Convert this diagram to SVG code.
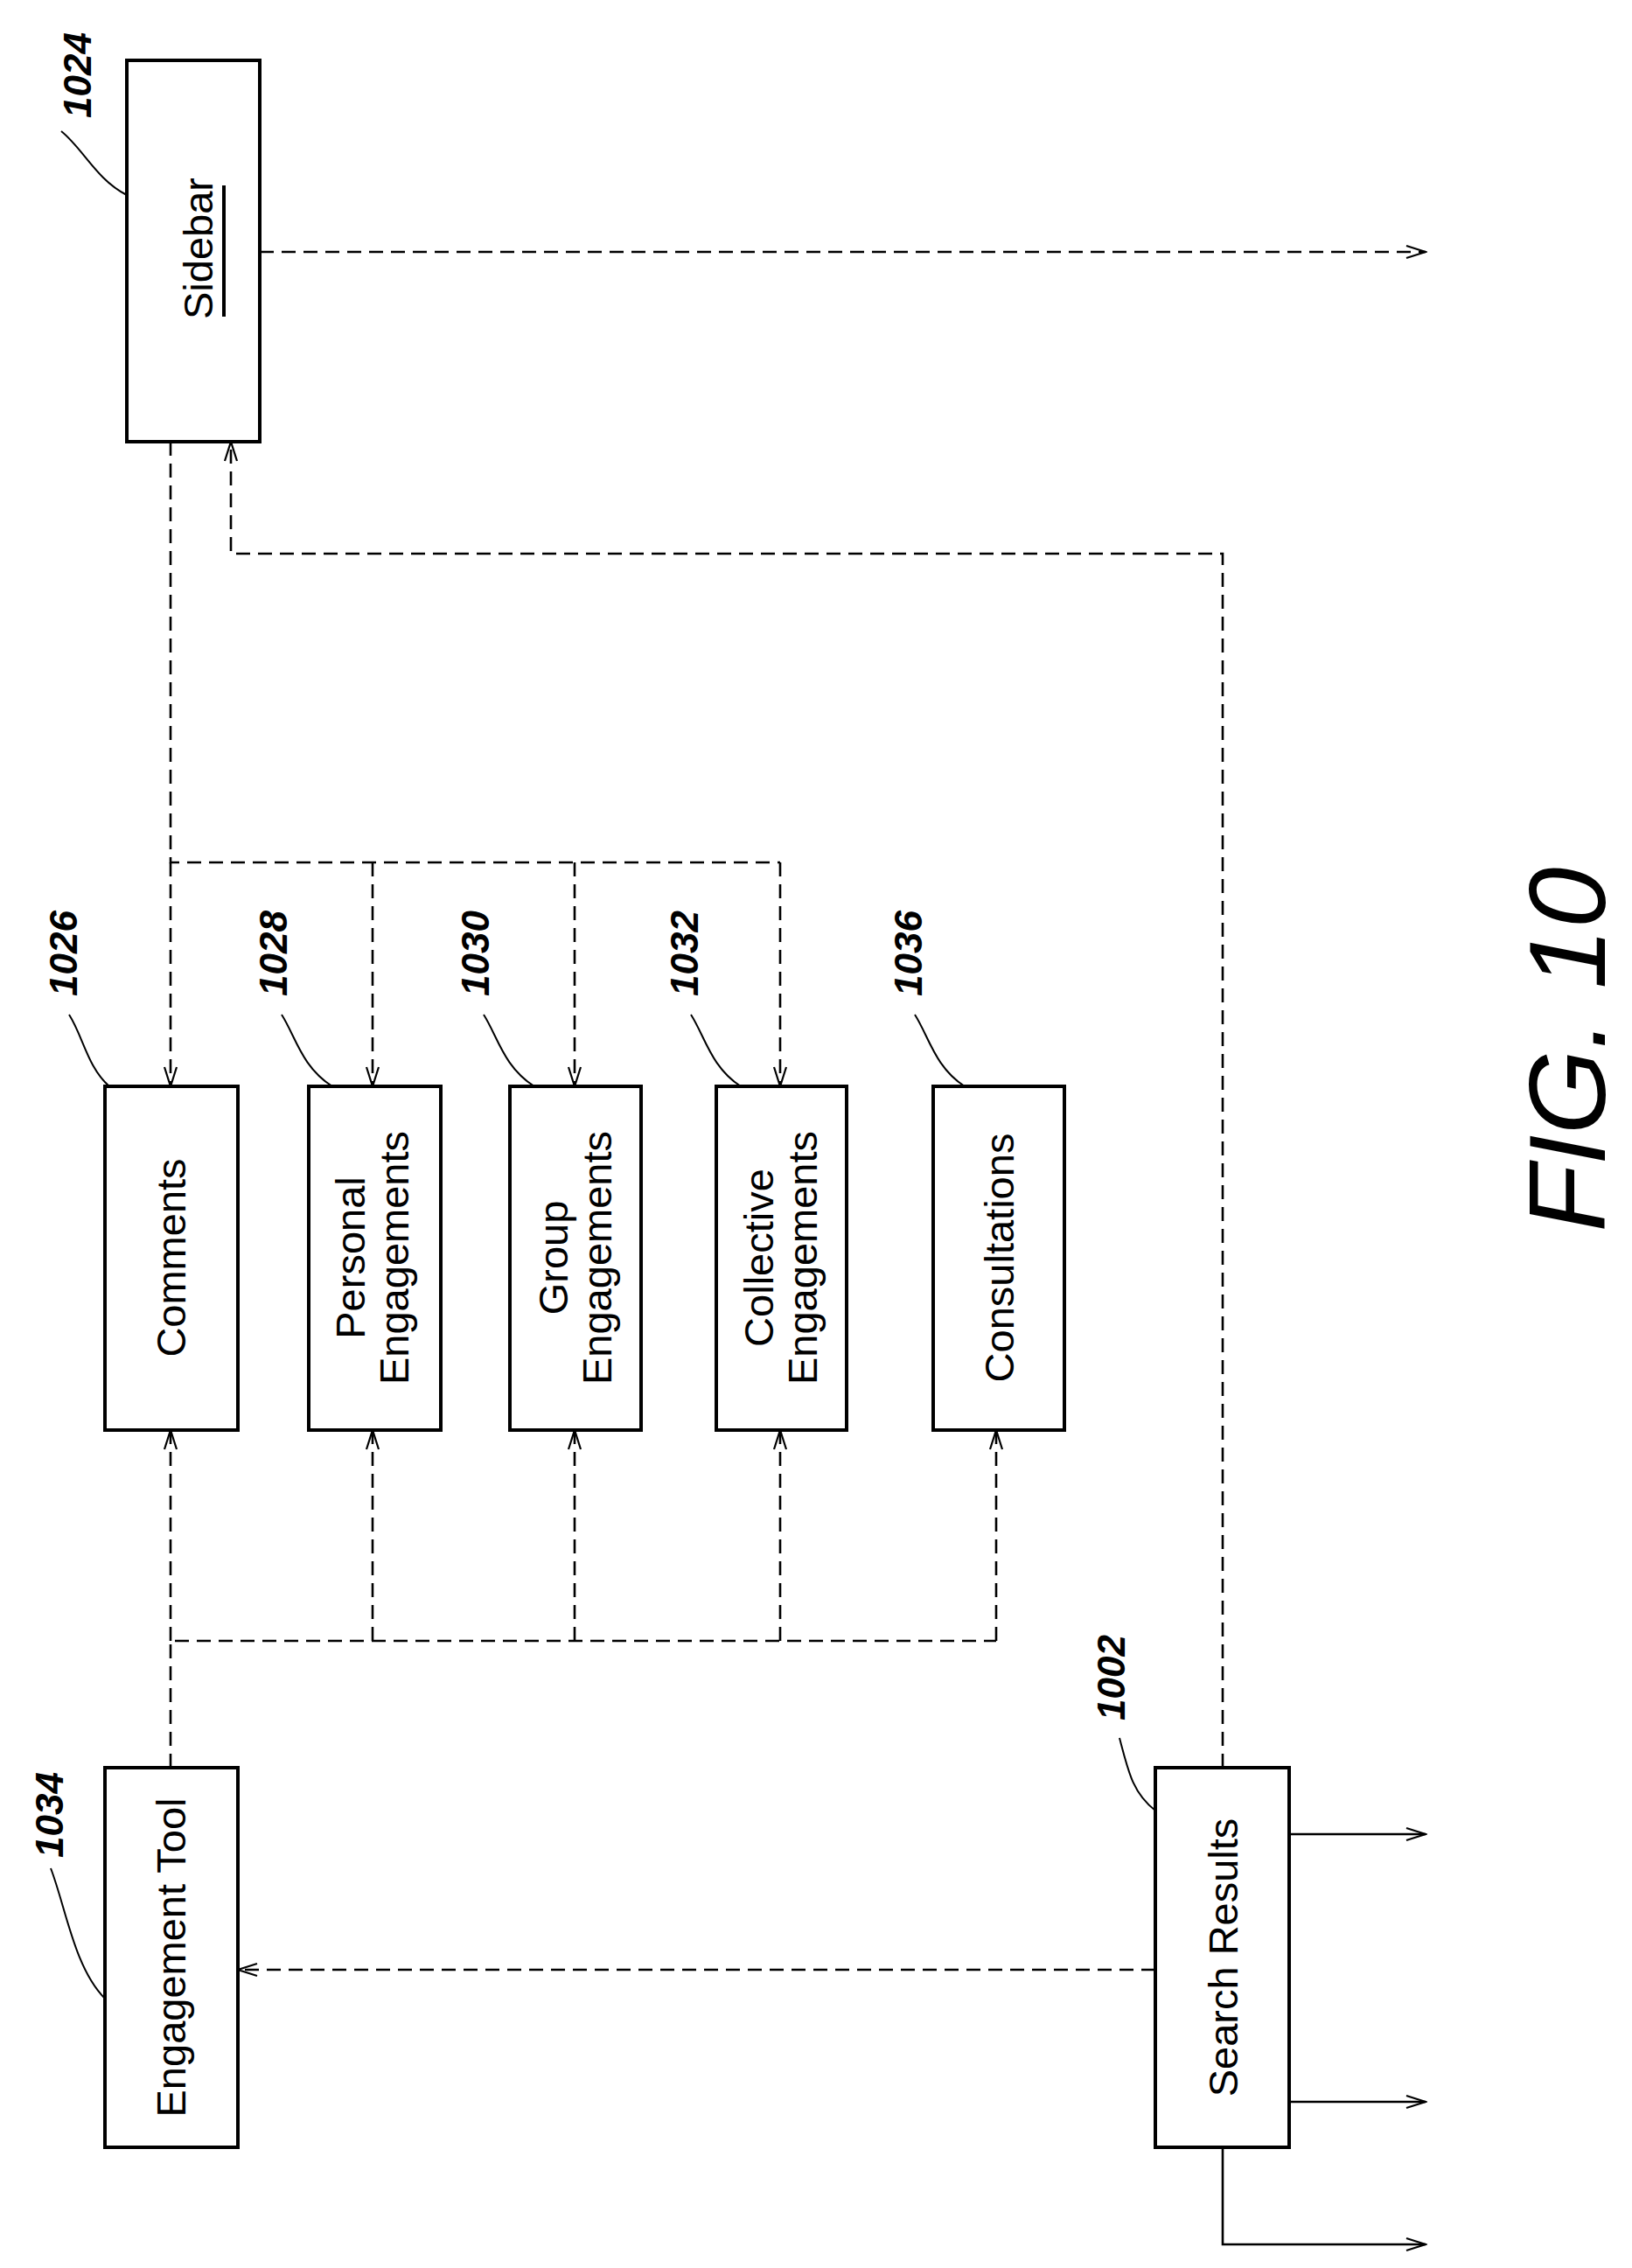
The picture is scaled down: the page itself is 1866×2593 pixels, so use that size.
<svg xmlns="http://www.w3.org/2000/svg" width="1866" height="2593" viewBox="0 0 1866 2593">
<style>
.box{fill:#fff;stroke:#000;stroke-width:4}
.t{font-family:"Liberation Sans",Arial,sans-serif;font-size:47px;text-anchor:middle;dominant-baseline:central}
.n{font-family:"Liberation Sans",Arial,sans-serif;font-size:44px;font-style:italic;font-weight:bold;text-anchor:middle;dominant-baseline:central}
.d{fill:none;stroke:#000;stroke-width:2.6;stroke-dasharray:16 9}
.s{fill:none;stroke:#000;stroke-width:2.6}
.l{fill:none;stroke:#000;stroke-width:2}
</style>
<defs>
<marker id="a" markerWidth="26" markerHeight="18" refX="24" refY="9" orient="auto" markerUnits="userSpaceOnUse">
<path d="M2,2 L24,9 L2,16" fill="none" stroke="#000" stroke-width="2.2"/>
</marker>
</defs>
<rect width="1866" height="2593" fill="#fff"/>
<g id="connectors">
<path class="d" d="M297,288 H1630" marker-end="url(#a)"/>
<path class="d" d="M195,505 V986 H892"/>
<path class="d" d="M195,986 V1242" marker-end="url(#a)"/>
<path class="d" d="M426,986 V1242" marker-end="url(#a)"/>
<path class="d" d="M657,986 V1242" marker-end="url(#a)"/>
<path class="d" d="M892,986 V1242" marker-end="url(#a)"/>
<path class="d" d="M195,2021 V1876 H1139"/>
<path class="d" d="M195,1876 V1635" marker-end="url(#a)"/>
<path class="d" d="M426,1876 V1635" marker-end="url(#a)"/>
<path class="d" d="M657,1876 V1635" marker-end="url(#a)"/>
<path class="d" d="M892,1876 V1635" marker-end="url(#a)"/>
<path class="d" d="M1139,1876 V1635" marker-end="url(#a)"/>
<path class="d" d="M1321,2252 H272" marker-end="url(#a)"/>
<path class="d" d="M1398,2021 V633 H264 V505" marker-end="url(#a)"/>
<path class="s" d="M1474,2097 H1630" marker-end="url(#a)"/>
<path class="s" d="M1474,2403 H1630" marker-end="url(#a)"/>
<path class="s" d="M1398,2455 V2566 H1630" marker-end="url(#a)"/>
</g>
<g id="n1024">
<rect class="box" x="145" y="69" width="152" height="436"/>
<text class="t" transform="translate(226,284) rotate(-90)">Sidebar</text>
<line x1="256" y1="212" x2="256" y2="362" stroke="#000" stroke-width="4"/>
<text class="n" transform="translate(88,86) rotate(-90)">1024</text>
<path class="l" d="M70,150 C95,170 110,205 145,223"/>
</g>
<g id="n1026">
<rect class="box" x="120" y="1242" width="152" height="393"/>
<text class="t" transform="translate(195,1438) rotate(-90)">Comments</text>
<text class="n" transform="translate(72,1090) rotate(-90)">1026</text>
<path class="l" d="M79,1160 C95,1185 100,1220 125,1242"/>
</g>
<g id="n1028">
<rect class="box" x="353" y="1242" width="151" height="393"/>
<text class="t" transform="translate(400,1438) rotate(-90)">Personal</text>
<text class="t" transform="translate(450,1438) rotate(-90)">Engagements</text>
<text class="n" transform="translate(312,1090) rotate(-90)">1028</text>
<path class="l" d="M322,1160 C338,1185 345,1220 380,1242"/>
</g>
<g id="n1030">
<rect class="box" x="583" y="1242" width="150" height="393"/>
<text class="t" transform="translate(632,1438) rotate(-90)">Group</text>
<text class="t" transform="translate(682,1438) rotate(-90)">Engagements</text>
<text class="n" transform="translate(543,1090) rotate(-90)">1030</text>
<path class="l" d="M553,1160 C569,1185 576,1220 611,1242"/>
</g>
<g id="n1032">
<rect class="box" x="819" y="1242" width="149" height="393"/>
<text class="t" transform="translate(867,1438) rotate(-90)">Collective</text>
<text class="t" transform="translate(917,1438) rotate(-90)">Engagements</text>
<text class="n" transform="translate(782,1090) rotate(-90)">1032</text>
<path class="l" d="M790,1160 C806,1185 813,1220 847,1242"/>
</g>
<g id="n1036">
<rect class="box" x="1067" y="1242" width="150" height="393"/>
<text class="t" transform="translate(1142,1438) rotate(-90)">Consultations</text>
<text class="n" transform="translate(1038,1090) rotate(-90)">1036</text>
<path class="l" d="M1046,1160 C1062,1185 1069,1220 1103,1242"/>
</g>
<g id="n1034">
<rect class="box" x="120" y="2021" width="152" height="434"/>
<text class="t" transform="translate(195,2238) rotate(-90)">Engagement Tool</text>
<text class="n" transform="translate(56,2075) rotate(-90)">1034</text>
<path class="l" d="M58,2136 C75,2180 85,2250 120,2285"/>
</g>
<g id="n1002">
<rect class="box" x="1321" y="2021" width="153" height="434"/>
<text class="t" transform="translate(1398,2238) rotate(-90)">Search Results</text>
<text class="n" transform="translate(1270,1918) rotate(-90)">1002</text>
<path class="l" d="M1280,1987 C1290,2025 1295,2050 1321,2070"/>
</g>
<text transform="translate(1791,1200) rotate(-90)" font-family="Liberation Sans,Arial,sans-serif" font-size="125" font-style="italic" text-anchor="middle" dominant-baseline="central">FIG. 10</text>
</svg>
